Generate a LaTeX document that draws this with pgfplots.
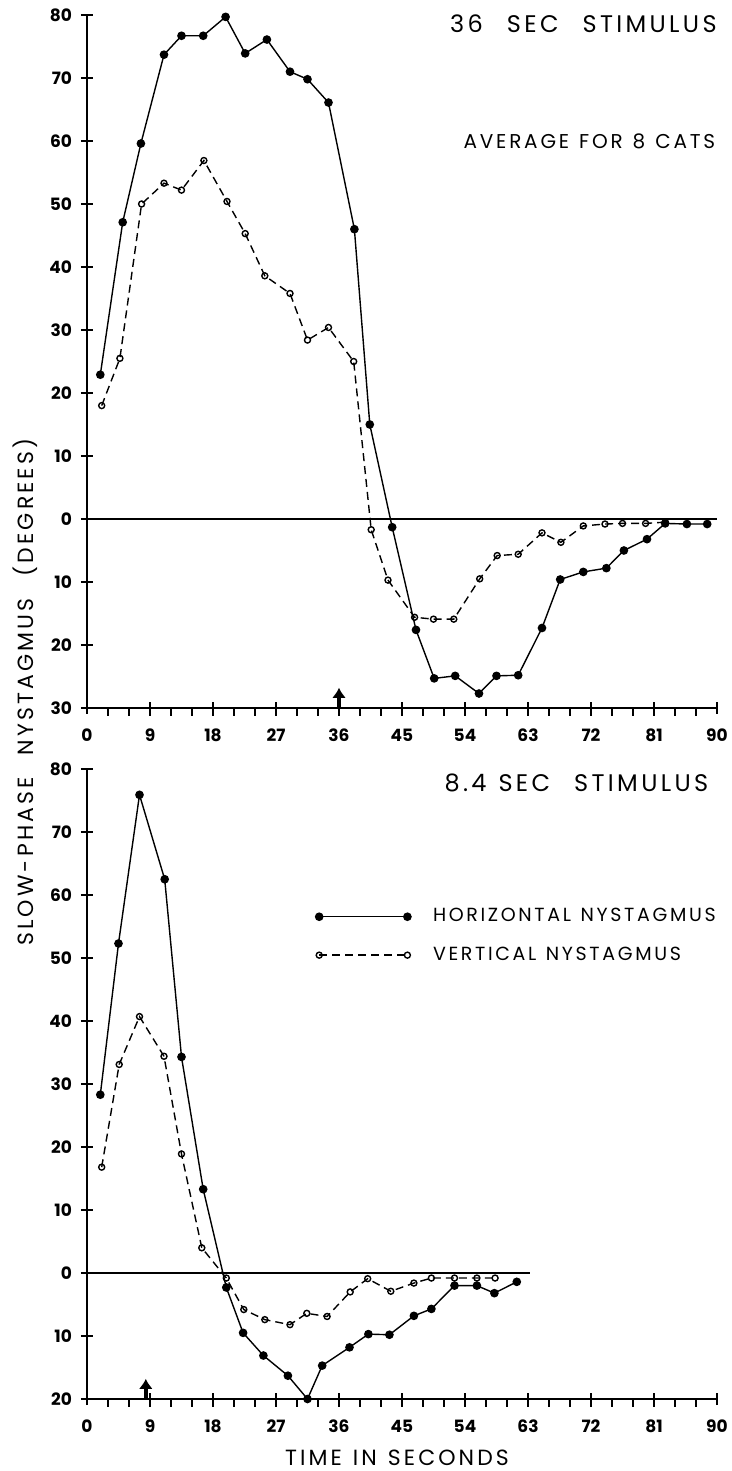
\documentclass[border=0pt]{standalone}
\usepackage{fontspec}
\setmainfont{Poppins}
\newfontfamily\lett[LetterSpace=14]{Poppins}
\usepackage{pgfplots}
\pgfplotsset{compat=1.18}
\usetikzlibrary{arrows.meta}

\pgfplotsset{
  nyst/.style={
    scale only axis, width=315pt,
    xmin=0, xmax=90,
    axis x line*=bottom, axis y line*=left,
    every outer x axis line/.append style={-},
    every outer y axis line/.append style={-},
    axis line style={line width=1.2pt},
    xtick={0,9,...,90},
    xticklabels={0,9,18,27,36,45,54,63,72,81,90},
    minor xtick={3,6,...,87},
    tick align=center,
    major tick length=6pt, minor tick length=3.8pt,
    tick style={line width=1pt, black},
    minor tick style={yshift=-1.9pt},
    tick label style={font=\fontsize{8.5}{10}\selectfont\bfseries},
    xticklabel style={yshift=-4pt},
    yticklabel style={xshift=-1pt},
    clip=false,
  },
  hor/.style={black, line width=0.7pt, mark=*, mark size=1.8pt},
  ver/.style={black, line width=0.7pt, dash pattern=on 4pt off 2.5pt,
    mark=o, mark size=1.5pt, mark options={solid, line width=0.7pt, fill=white}},
}

\begin{document}
\begin{tikzpicture}
\path[use as bounding box] (-43.5pt,-381.5pt) rectangle (322.5pt,354pt);

% 36 s stimulus
\begin{axis}[nyst, height=346.5pt, ymin=-30, ymax=80,
  ytick={-30,-20,...,80},
  yticklabels={30,20,10,0,10,20,30,40,50,60,70,80}]
\addplot[black, line width=0.7pt, forget plot] coordinates {(0,0) (90,0)};
\addplot[ver] coordinates {
(2.1,18.0)(4.7,25.5)(7.8,50.0)(11.0,53.3)(13.5,52.2)(16.7,56.9)(20.0,50.4)
(22.6,45.3)(25.4,38.6)(29.0,35.8)(31.5,28.4)(34.5,30.4)(38.1,25.0)(40.6,-1.7)
(43.0,-9.7)(46.8,-15.6)(49.5,-15.9)(52.4,-15.9)(56.1,-9.5)(58.6,-5.8)(61.6,-5.6)
(65.0,-2.2)(67.7,-3.7)(70.9,-1.1)(74.0,-0.8)(76.5,-0.7)(79.8,-0.7)(82.6,-0.5)};
\addplot[hor] coordinates {
(1.9,22.9)(5.1,47.1)(7.7,59.6)(11.0,73.7)(13.5,76.7)(16.6,76.7)(19.8,79.7)
(22.6,73.9)(25.7,76.1)(29.0,71.0)(31.5,69.8)(34.5,66.1)(38.2,46.0)(40.4,15.0)
(43.6,-1.3)(47.0,-17.6)(49.6,-25.3)(52.6,-24.9)(56.0,-27.7)(58.5,-24.9)(61.6,-24.8)
(65.0,-17.3)(67.6,-9.6)(70.9,-8.4)(74.2,-7.8)(76.7,-5.0)(80.0,-3.2)(82.6,-0.7)
(85.7,-0.8)(88.6,-0.8)};
\draw[line width=1.8pt, -{Latex[length=5pt,width=7pt]}] (axis cs:36,-30) -- (axis cs:36,-26.8);
\node[anchor=east, inner sep=0pt, font=\fontsize{12}{14}\selectfont\lett] at (axis cs:90,78.6) {36\quad SEC\quad STIMULUS};
\node[anchor=east, inner sep=0pt, font=\fontsize{10}{12}\selectfont\lett] at (axis cs:89.8,60) {AVERAGE\enspace FOR\enspace 8\enspace CATS};
\end{axis}

% 8.4 s stimulus
\begin{axis}[nyst, at={(0,-345.5pt)}, height=315pt, ymin=-20, ymax=80,
  ytick={-20,-10,...,80},
  yticklabels={20,10,0,10,20,30,40,50,60,70,80},
  legend cell align=left,
  legend style={draw=none, fill=none, at={(axis cs:32.6,53.5)}, anchor=west,
    inner sep=0pt, row sep=7pt, font=\fontsize{9.5}{11}\selectfont\lett},
  legend image code/.code={\draw[#1, mark repeat=1] plot coordinates {(0cm,0cm) (1.55cm,0cm)};}]
\addplot[black, line width=0.7pt, forget plot] coordinates {(0,0) (63.3,0)};
\addplot[hor] coordinates {
(1.9,28.3)(4.5,52.3)(7.5,75.9)(11.1,62.5)(13.5,34.3)(16.6,13.3)(19.9,-2.3)
(22.3,-9.5)(25.2,-13.1)(28.7,-16.3)(31.5,-20.0)(33.6,-14.7)(37.5,-11.8)(40.2,-9.7)
(43.2,-9.8)(46.7,-6.8)(49.2,-5.7)(52.5,-2.0)(55.7,-2.0)(58.2,-3.2)(61.4,-1.4)};
\addlegendentry{\hspace*{9pt}HORIZONTAL\enspace NYSTAGMUS}
\addplot[ver] coordinates {
(2.1,16.8)(4.6,33.1)(7.5,40.7)(11.0,34.4)(13.5,18.9)(16.4,4.0)(19.9,-0.8)
(22.4,-5.8)(25.4,-7.4)(29.0,-8.2)(31.4,-6.4)(34.3,-6.9)(37.6,-3.0)(40.1,-0.9)
(43.4,-2.9)(46.7,-1.6)(49.2,-0.8)(52.5,-0.8)(55.7,-0.8)(58.3,-0.8)};
\addlegendentry{\hspace*{9pt}VERTICAL\enspace NYSTAGMUS}
\draw[line width=1.8pt, -{Latex[length=5pt,width=7pt]}] (axis cs:8.4,-20) -- (axis cs:8.4,-16.8);
\node[anchor=east, inner sep=0pt, font=\fontsize{12}{14}\selectfont\lett] at (axis cs:88.8,77.8) {8.4\enspace SEC\quad STIMULUS};
\end{axis}

\node[rotate=90, font=\fontsize{11}{13}\selectfont\lett] at (-31pt,8pt)
  {SLOW-\,PHASE\quad NYSTAGMUS\quad (\,DEGREES\,)};
\node[font=\fontsize{11}{13}\selectfont\lett] at (155pt,-375pt) {TIME\enspace IN\enspace SECONDS};
\end{tikzpicture}
\end{document}
